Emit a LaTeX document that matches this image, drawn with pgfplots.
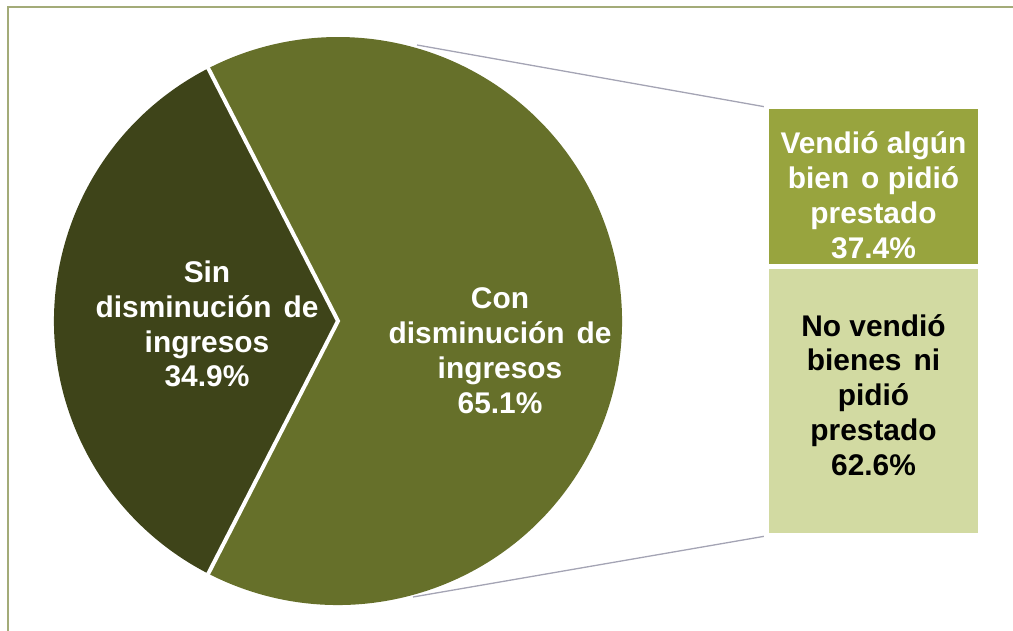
\documentclass[border=0pt]{standalone}
\usepackage{pgfplots}
\pgfplotsset{compat=1.18}
\usepackage{pgfplotstable}
\usepackage{fontspec}
\setmainfont{Liberation Sans}

\definecolor{pieDark}{HTML}{3E4419}
\definecolor{pieOlive}{HTML}{66702A}
\definecolor{barTop}{HTML}{98A43E}
\definecolor{barBot}{HTML}{D2DAA2}
\definecolor{frameC}{HTML}{A3AB78}
\definecolor{connC}{HTML}{A4A4B4}

\pgfplotstableread{
label value
Sin 34.9
Con 65.1
}\piedata

\pgfplotstableread{
x vendio novendio
0 37.4 62.6
}\bardata

\newcommand{\js}{\hspace{0.4em}}
\tikzset{lbl/.style={font=\fontsize{30}{35}\selectfont\bfseries, align=center, inner sep=0pt}}

\begin{document}
\begin{tikzpicture}
\useasboundingbox (0,0) rectangle (1013bp,631bp);
\pgfplotstablegetelem{0}{value}\of\piedata
\pgfmathsetmacro{\halfA}{\pgfplotsretval*3.6/2}
\pgfmathsetmacro{\aS}{180-\halfA}
\pgfmathsetmacro{\aE}{180+\halfA}
\pgfmathsetmacro{\aF}{\aS+360}
\pgfplotstablegetelem{0}{value}\of\piedata \let\vSin\pgfplotsretval
\pgfplotstablegetelem{1}{value}\of\piedata \let\vCon\pgfplotsretval
\pgfplotstablegetelem{0}{vendio}\of\bardata \let\vVen\pgfplotsretval
\pgfplotstablegetelem{0}{novendio}\of\bardata \let\vNoVen\pgfplotsretval

% ---- pie axis (1 unit = 1bp) ----
\begin{axis}[
  at={(0,0)}, anchor=south west,
  scale only axis, width=1013bp, height=631bp,
  xmin=0, xmax=1013, ymin=0, ymax=631,
  hide axis, clip=false,
]
% frame (top and left edges visible)
\draw[frameC, line width=1.6bp] (axis cs:8,0) -- (axis cs:8,624) -- (axis cs:1013,624);
% connectors
\draw[connC, line width=1.3bp] (axis cs:417,586) -- (axis cs:766,524);
\draw[connC, line width=1.3bp] (axis cs:413,34) -- (axis cs:766,95);
% slices
\fill[pieOlive] (axis cs:338,310) -- ++(\aE:284bp) arc[start angle=\aE, end angle=\aF, radius=284bp] -- cycle;
\fill[pieDark] (axis cs:338,310) -- ++(\aS:284bp) arc[start angle=\aS, end angle=\aE, radius=284bp] -- cycle;
\draw[white, line width=4bp, line join=miter] (axis cs:338,310) ++(\aS:284.5bp) -- (axis cs:338,310) -- ++(\aE:284.5bp);
% labels
\node[lbl, white] at (axis cs:207,307) {Sin\\disminución\js de\\ingresos\\\vSin\%};
\node[lbl, white] at (axis cs:500,280) {Con\\disminución\js de\\ingresos\\\vCon\%};
\end{axis}

% ---- bar of pie ----
\begin{axis}[
  at={(766.5bp,95.5bp)}, anchor=south west,
  scale only axis, width=214bp, height=429bp,
  xmin=-0.5, xmax=0.5, ymin=0, ymax=100,
  hide axis, clip=false,
  ybar stacked, bar width=214bp,
]
\addplot[fill=barBot, draw=white, line width=5bp] table[x=x, y=novendio] {\bardata};
\addplot[fill=barTop, draw=white, line width=5bp] table[x=x, y=vendio] {\bardata};
\end{axis}
\node[lbl, white] at (873.5bp,436bp) {Vendió algún\\bien\js o pidió\\prestado\\\vVen\%};
\node[lbl, black] at (873.5bp,236bp) {No vendió\\bienes\js ni\\pidió\\prestado\\\vNoVen\%};
\end{tikzpicture}
\end{document}
